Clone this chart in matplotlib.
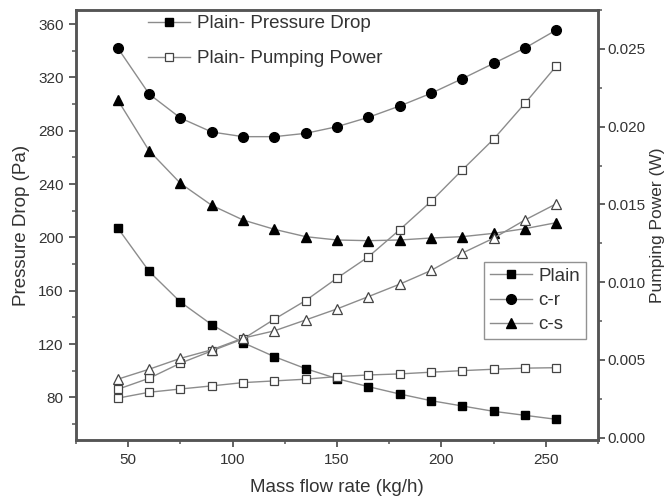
import matplotlib
matplotlib.use("Agg")
import matplotlib.pyplot as plt
from matplotlib.ticker import MultipleLocator

plt.rcParams['font.family'] = ['Liberation Sans', 'DejaVu Sans']

### data #####################################################################
mass_flow = [45, 60, 75, 90, 105, 120, 135, 150, 165, 180, 195, 210, 225, 240, 255]

plain_dp = [207, 174.5, 151.5, 134.5, 121, 110.5, 101.5, 94, 88, 82.5, 77.5, 73.5, 69.5, 66.5, 63.5]
cr_dp = [342, 307.5, 289.5, 279, 275.5, 275.5, 278, 283, 290, 298.5, 308, 319, 330.5, 342, 355.5]
cs_dp = [303, 265, 240.5, 224, 213, 206, 200.5, 198, 197.5, 198, 199.5, 200.5, 203, 206.5, 211]

plain_pp = [0.00254, 0.00292, 0.00313, 0.00333, 0.00354, 0.00365, 0.00376, 0.00393,
            0.00403, 0.00410, 0.00421, 0.00431, 0.00440, 0.00447, 0.00450]
cr_pp = [0.00311, 0.00382, 0.00479, 0.00558, 0.00635, 0.00762, 0.00882, 0.01026,
         0.01163, 0.01337, 0.01519, 0.01722, 0.01920, 0.02150, 0.02390]
cs_pp = [0.00376, 0.00440, 0.00510, 0.00565, 0.00640, 0.00687, 0.00757, 0.00828,
         0.00907, 0.00987, 0.01075, 0.01187, 0.01283, 0.01400, 0.01504]

### plot #####################################################################
LINE_C = '#8c8c8c'
EDGE_C = '#444444'
TXT_C = '#333333'
FS = 13.5

fig = plt.figure(figsize=(6.69, 5.0), dpi=100)
ax = fig.add_axes([0.1136, 0.12, 0.7804, 0.86])
ax2 = ax.twinx()

kw = dict(color=LINE_C, lw=1.0)
l_plain, = ax.plot(mass_flow, plain_dp, marker='s', ms=6, mfc='black', mec='black', **kw)
l_cr, = ax.plot(mass_flow, cr_dp, marker='o', ms=7, mfc='black', mec='black', **kw)
l_cs, = ax.plot(mass_flow, cs_dp, marker='^', ms=7, mfc='black', mec='black', **kw)

l_plain_pp, = ax2.plot(mass_flow, plain_pp, marker='s', ms=6, mfc='white', mec=EDGE_C, mew=0.9, **kw)
ax2.plot(mass_flow, cr_pp, marker='s', ms=6, mfc='white', mec=EDGE_C, mew=0.9, **kw)
ax2.plot(mass_flow, cs_pp, marker='^', ms=7, mfc='white', mec=EDGE_C, mew=0.9, **kw)

ax.set_xlim(25, 275)
ax.set_ylim(48, 370.5)
ax2.set_ylim(-0.00015, 0.0275)

ax.xaxis.set_major_locator(MultipleLocator(50))
ax.xaxis.set_minor_locator(MultipleLocator(25))
ax.yaxis.set_major_locator(MultipleLocator(40))
ax.yaxis.set_minor_locator(MultipleLocator(20))
ax2.yaxis.set_major_locator(MultipleLocator(0.005))
ax2.yaxis.set_minor_locator(MultipleLocator(0.0025))
ax2.yaxis.set_major_formatter(plt.FormatStrFormatter('%.3f'))

for a in (ax, ax2):
    for s in a.spines.values():
        s.set_linewidth(1.8)
        s.set_color('#555555')
    a.tick_params(which='both', direction='out', colors='#555555', labelcolor=TXT_C, labelsize=11)
    a.tick_params(which='major', length=5, width=1.3, pad=4)
    a.tick_params(which='minor', length=3, width=1.1)
ax.tick_params(axis='y', which='both', right=False)
ax.tick_params(axis='x', which='both', top=False)
ax2.tick_params(axis='y', which='major', pad=2)

ax.set_xlabel('Mass flow rate (kg/h)', fontsize=FS, color=TXT_C, labelpad=9)
ax.set_ylabel('Pressure Drop (Pa)', fontsize=FS, color=TXT_C, labelpad=6)
ax2.set_ylabel('Pumping Power (W)', fontsize=12.5, color=TXT_C, labelpad=3)

leg1 = ax2.legend([l_plain, l_plain_pp], ['Plain- Pressure Drop', 'Plain- Pumping Power'],
                  loc='upper left', bbox_to_anchor=(0.123, 1.005), borderaxespad=0,
                  frameon=False, fontsize=FS, handlelength=2.24, handletextpad=0.37,
                  labelspacing=0.95, labelcolor=TXT_C)
ax2.add_artist(leg1)
leg2 = ax2.legend([l_plain, l_cr, l_cs], ['Plain', 'c-r', 'c-s'],
                  loc='lower right', bbox_to_anchor=(0.977, 0.235), borderaxespad=0,
                  frameon=True, fancybox=False, fontsize=FS, handlelength=2.24,
                  handletextpad=0.37, labelspacing=0.38, borderpad=0.3, labelcolor=TXT_C)
leg2.get_frame().set_edgecolor('#777777')
leg2.get_frame().set_linewidth(1.0)

fig.savefig('out.png', dpi=100)
